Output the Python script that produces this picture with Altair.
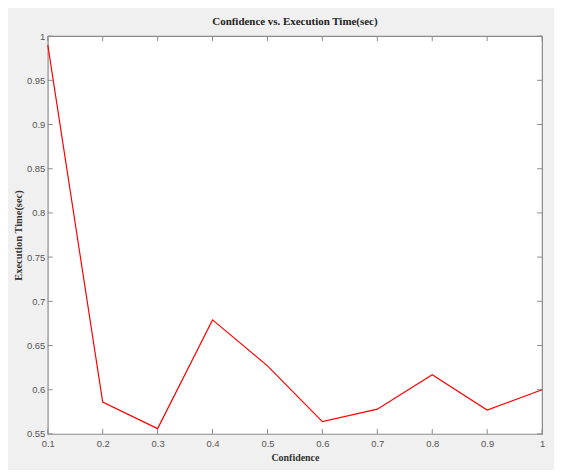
import altair as alt
import pandas as pd

confidence = [0.1, 0.2, 0.3, 0.4, 0.5, 0.6, 0.7, 0.8, 0.9, 1.0]
exec_time = [0.99, 0.586, 0.556, 0.679, 0.627, 0.564, 0.578, 0.617, 0.577, 0.600]
x_ticks = [0.1, 0.2, 0.3, 0.4, 0.5, 0.6, 0.7, 0.8, 0.9, 1.0]
y_ticks = [0.55, 0.6, 0.65, 0.7, 0.75, 0.8, 0.85, 0.9, 0.95, 1.0]

W, H = 497, 400
TICK = 5
TICK_COLOR = "#8a8a8a"

df = pd.DataFrame({"Confidence": confidence, "Time": exec_time})
xt = pd.DataFrame({"t": x_ticks})
yt = pd.DataFrame({"t": y_ticks})

xscale = alt.Scale(domain=[0.1, 1.0], nice=False, zero=False)
yscale = alt.Scale(domain=[0.55, 1.0], nice=False, zero=False)

label_font = "Liberation Sans"
title_font = "Liberation Serif"

line = alt.Chart(df).mark_line(color="#ff0000", strokeWidth=1.2).encode(
    x=alt.X("Confidence:Q", scale=xscale,
            axis=alt.Axis(values=x_ticks, format="~g", ticks=False, domain=False, grid=False,
                          labelPadding=5, labelFont=label_font, labelFontSize=9.5,
                          labelColor="#555555", title="Confidence", titleFont=title_font,
                          titleFontSize=10, titleFontWeight="bold", titleColor="#333333",
                          titlePadding=4, labelFlush=False)),
    y=alt.Y("Time:Q", scale=yscale,
            axis=alt.Axis(values=y_ticks, format="~g", ticks=False, domain=False, grid=False,
                          labelPadding=3, labelFont=label_font, labelFontSize=9.5,
                          labelColor="#555555", title="Execution Time(sec)", titleFont=title_font,
                          titleFontSize=10.5, titleFontWeight="bold", titleColor="#333333",
                          titlePadding=3, labelFlush=False)),
)

xb = alt.Chart(xt).mark_rule(color=TICK_COLOR, strokeWidth=1).encode(
    x=alt.X("t:Q", scale=xscale), y=alt.value(H), y2=alt.value(H - TICK))
xtop = alt.Chart(xt).mark_rule(color=TICK_COLOR, strokeWidth=1).encode(
    x=alt.X("t:Q", scale=xscale), y=alt.value(0), y2=alt.value(TICK))
yl = alt.Chart(yt).mark_rule(color=TICK_COLOR, strokeWidth=1).encode(
    y=alt.Y("t:Q", scale=yscale), x=alt.value(0), x2=alt.value(TICK))
yr = alt.Chart(yt).mark_rule(color=TICK_COLOR, strokeWidth=1).encode(
    y=alt.Y("t:Q", scale=yscale), x=alt.value(W), x2=alt.value(W - TICK))

chart = alt.layer(xb, xtop, yl, yr, line).properties(
    width=W, height=H,
    title=alt.TitleParams("Confidence vs. Execution Time(sec)", font=title_font, fontSize=11,
                          fontWeight="bold", color="#222222", anchor="middle", offset=4),
    autosize=alt.AutoSizeParams(type="none"),
    padding={"left": 40, "top": 27, "right": 12, "bottom": 35},
    background="#f0f0f0",
).configure_view(fill="white", stroke=TICK_COLOR, strokeWidth=1.2)

chart.save("out.html", embed_options={"renderer": "svg", "actions": False})
